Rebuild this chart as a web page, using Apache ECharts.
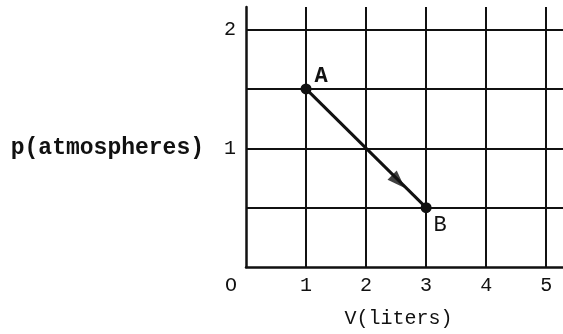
<!DOCTYPE html>
<html>
<head>
<meta charset="utf-8">
<script src="https://cdn.jsdelivr.net/npm/echarts@6/dist/echarts.min.js"></script>
<style>
html,body{margin:0;padding:0;background:#fff;}
#main{width:563px;height:334px;}
</style>
</head>
<body>
<div id="main"></div>
<script>
// Data
var xTicks = [0, 1, 2, 3, 4, 5];
var xTickLabels = ['O', '1', '2', '3', '4', '5'];
var yTickLabels = {1: '1', 2: '2'};
var pathPoints = [[1, 1.5], [3, 0.5]];
var pointNames = ['A', 'B'];
var arrowPoint = [2.54, 0.72];
var xName = 'V(liters)';
var yName = 'p(atmospheres)';
var yNameAt = 1;

var FONT = '"Liberation Mono", monospace';
var INK = '#111';

var chart = echarts.init(document.getElementById('main'), null, {renderer: 'canvas'});

var labelPositions = [[14, -18], [13, 12]];
var labelWeights = ['bold', 'normal'];
var pathData = pathPoints.map(function (p, i) {
  return {
    value: p,
    label: {
      show: true,
      formatter: pointNames[i],
      position: labelPositions[i],
      fontFamily: FONT,
      fontSize: 22,
      fontWeight: labelWeights[i],
      color: INK
    }
  };
});

chart.setOption({
  animation: false,
  grid: {left: 246, right: 0, top: 7, bottom: 67},
  xAxis: {
    type: 'value',
    min: 0,
    max: 5.28,
    interval: 1,
    name: xName,
    nameLocation: 'middle',
    nameGap: 42,
    nameTextStyle: {fontFamily: FONT, fontSize: 20, color: INK, padding: [0, 12, 0, 0]},
    axisLine: {show: true, lineStyle: {color: INK, width: 2.5}},
    axisTick: {show: false},
    axisLabel: {
      showMaxLabel: false,
      margin: 9,
      fontFamily: FONT,
      fontSize: 20,
      color: INK,
      formatter: function (v) {
        var i = xTicks.indexOf(v);
        if (i < 0) return '';
        if (i === 0) return '{o|' + xTickLabels[0] + '}';
        return xTickLabels[i];
      },
      rich: {o: {fontFamily: FONT, fontSize: 20, color: INK, padding: [0, 30, 0, 0]}}
    },
    splitLine: {show: true, showMinLine: false, showMaxLine: false, lineStyle: {color: INK, width: 2}}
  },
  yAxis: {
    type: 'value',
    min: 0,
    max: 2.19,
    interval: 0.5,
    axisLine: {show: true, lineStyle: {color: INK, width: 2.5}},
    axisTick: {show: false},
    axisLabel: {
      showMaxLabel: false,
      margin: 10,
      fontFamily: FONT,
      fontSize: 20,
      color: INK,
      formatter: function (v) { return yTickLabels[v] || ''; }
    },
    splitLine: {show: true, showMinLine: false, showMaxLine: false, lineStyle: {color: INK, width: 2}}
  },
  series: [
    {
      type: 'line',
      data: pathData,
      symbol: 'circle',
      symbolSize: 11,
      itemStyle: {color: INK},
      lineStyle: {color: INK, width: 3},
      z: 5
    },
    {
      type: 'scatter',
      data: [arrowPoint],
      symbol: 'triangle',
      symbolSize: [13, 18],
      symbolRotate: -135,
      itemStyle: {color: INK},
      z: 6
    }
  ]
});

var yNamePos = chart.convertToPixel({gridIndex: 0}, [0, yNameAt]);
chart.setOption({
  graphic: [{
    type: 'text',
    x: yNamePos[0] - 42,
    y: yNamePos[1],
    style: {
      text: yName,
      fontFamily: FONT,
      fontSize: 23,
      fontWeight: 'bold',
      fill: INK,
      align: 'right',
      verticalAlign: 'middle'
    }
  }]
});
</script>
</body>
</html>
